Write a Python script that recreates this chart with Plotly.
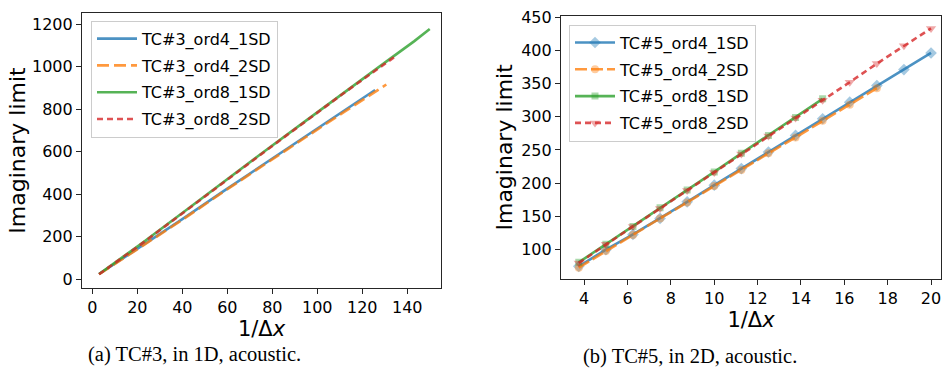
import plotly.graph_objects as go

# ---------- Data: (a) TC#3, 1D acoustic ----------
a_x_ord4_1SD = [3, 22, 40, 58, 77, 95, 113, 125.7]
a_y_ord4_1SD = [25, 157, 283, 413, 548, 675, 802, 891]
a_x_ord4_2SD = [3, 22, 40, 58, 77, 95, 113, 130.7]
a_y_ord4_2SD = [24, 155, 280, 410, 545, 670, 795, 917]
a_x_ord8_1SD = [3, 22, 40, 58, 77, 95, 113, 132, 143, 150]
a_y_ord8_1SD = [25, 170, 312, 456, 606, 747, 889, 1035, 1120, 1178]
a_x_ord8_2SD = [3, 22, 40, 58, 77, 95, 113, 134.8]
a_y_ord8_2SD = [24, 168, 310, 454, 604, 745, 886, 1050]

# ---------- Data: (b) TC#5, 2D acoustic ----------
b_x = [3.75, 5, 6.25, 7.5, 8.75, 10, 11.25, 12.5, 13.75, 15, 16.25, 17.5, 18.75, 20]
b_y_ord4_1SD = [75, 100, 123, 147, 172, 197, 222, 247, 272, 297, 322, 347, 371, 396]
b_y_ord4_2SD = [73, 98, 122, 147, 171, 196, 220, 245, 269, 294, 318, 343]
b_y_ord8_1SD = [81, 108, 135, 163, 190, 217, 245, 272, 299, 327]
b_y_ord8_2SD = [80, 108, 135, 162, 189, 216, 244, 271, 298, 325, 352, 380, 407, 433]

a_names = ["TC#3_ord4_1SD", "TC#3_ord4_2SD", "TC#3_ord8_1SD", "TC#3_ord8_2SD"]
b_names = ["TC#5_ord4_1SD", "TC#5_ord4_2SD", "TC#5_ord8_1SD", "TC#5_ord8_2SD"]

x_ticks_a = [0, 20, 40, 60, 80, 100, 120, 140]
y_ticks_a = [0, 200, 400, 600, 800, 1000, 1200]
x_ticks_b = [4, 6, 8, 10, 12, 14, 16, 18, 20]
y_ticks_b = [100, 150, 200, 250, 300, 350, 400, 450]

captions = ["(a) TC#3, in 1D, acoustic.", "(b) TC#5, in 2D, acoustic."]

# ---------- Style ----------
cols = ["rgba(31,119,180,0.8)", "rgba(255,127,14,0.8)", "rgba(44,160,44,0.8)", "rgba(214,39,40,0.8)"]
mcols = ["rgba(31,119,180,0.4)", "rgba(255,127,14,0.4)", "rgba(44,160,44,0.4)", "rgba(214,39,40,0.4)"]
dashes_a = ["solid", "12px,5px", "solid", "6px,4px"]
dashes_b = ["solid", "12px,4px", "solid", "6px,4px"]
symbols = ["diamond", "circle", "square", "triangle-down"]
msizes = [9, 8, 7, 9]

W, H = 942, 372

fig = go.Figure()

a_data = [(a_x_ord4_1SD, a_y_ord4_1SD), (a_x_ord4_2SD, a_y_ord4_2SD),
          (a_x_ord8_1SD, a_y_ord8_1SD), (a_x_ord8_2SD, a_y_ord8_2SD)]
for i, (xs, ys) in enumerate(a_data):
    fig.add_trace(go.Scatter(
        x=xs, y=ys, mode="lines", name=a_names[i],
        line=dict(color=cols[i], width=2.6, dash=dashes_a[i]),
        xaxis="x", yaxis="y", legend="legend", legendgroup="a%d" % i))

b_ys = [b_y_ord4_1SD, b_y_ord4_2SD, b_y_ord8_1SD, b_y_ord8_2SD]
for i, ys in enumerate(b_ys):
    fig.add_trace(go.Scatter(
        x=b_x[:len(ys)], y=ys, mode="lines+markers", name=b_names[i],
        line=dict(color=cols[i], width=2.6, dash=dashes_b[i]),
        marker=dict(symbol=symbols[i], size=msizes[i], color=mcols[i]),
        xaxis="x2", yaxis="y2", legend="legend2", legendgroup="b%d" % i))

axis_line = dict(showline=True, linecolor="#262626", linewidth=1.2, mirror=True,
                 ticks="outside", ticklen=5, tickwidth=1, tickcolor="#262626",
                 showgrid=False, zeroline=False, ticklabeloverflow="allow",
                 tickfont=dict(family="DejaVu Sans", size=16, color="black"))

def px_x(p):
    return p / W

def px_y(p):
    return 1 - p / H

title_font_x = dict(family="DejaVu Sans", size=21, color="black")
title_font_y = dict(family="DejaVu Sans", size=22, color="black")

fig.update_layout(
    width=W, height=H,
    margin=dict(l=0, r=0, t=0, b=0),
    paper_bgcolor="white", plot_bgcolor="white",
    showlegend=True,
    xaxis=dict(domain=[px_x(82), px_x(441)], range=[-4.6, 155], tickvals=x_ticks_a,
               anchor="y", title=dict(text="1/Δ<i>x</i>", font=title_font_x, standoff=0),
               **axis_line),
    yaxis=dict(domain=[px_y(287), px_y(5)], range=[-41, 1254], tickvals=y_ticks_a,
               anchor="x", title=dict(text="Imaginary limit", font=title_font_y, standoff=0),
               **axis_line),
    xaxis2=dict(domain=[px_x(561), px_x(941)], range=[2.93, 20.46], tickvals=x_ticks_b,
                anchor="y2", title=dict(text="1/Δ<i>x</i>", font=title_font_x, standoff=0),
                **axis_line),
    yaxis2=dict(domain=[px_y(277.3), px_y(8.3)], range=[56.5, 451.5], tickvals=y_ticks_b,
                anchor="x2", title=dict(text="Imaginary limit", font=title_font_y, standoff=2),
                **axis_line),
    legend=dict(x=px_x(91), y=px_y(13), xanchor="left", yanchor="top",
                bgcolor="rgba(255,255,255,0.85)", bordercolor="#cccccc", borderwidth=1,
                font=dict(family="DejaVu Sans", size=16, color="black"),
                traceorder="grouped", tracegroupgap=3, itemwidth=40),
    legend2=dict(x=px_x(569), y=px_y(17), xanchor="left", yanchor="top",
                 bgcolor="rgba(255,255,255,0.85)", bordercolor="#cccccc", borderwidth=1,
                 font=dict(family="DejaVu Sans", size=16, color="black"),
                 traceorder="grouped", tracegroupgap=3, itemwidth=40),
)

fig.add_annotation(text=captions[0], x=px_x(194), y=px_y(355), xref="paper", yref="paper",
                   showarrow=False, xanchor="center", yanchor="middle",
                   font=dict(family="Liberation Serif", size=20.5, color="black"))
fig.add_annotation(text=captions[1], x=px_x(690), y=px_y(357), xref="paper", yref="paper",
                   showarrow=False, xanchor="center", yanchor="middle",
                   font=dict(family="Liberation Serif", size=20.5, color="black"))

fig.write_html("out.html")
